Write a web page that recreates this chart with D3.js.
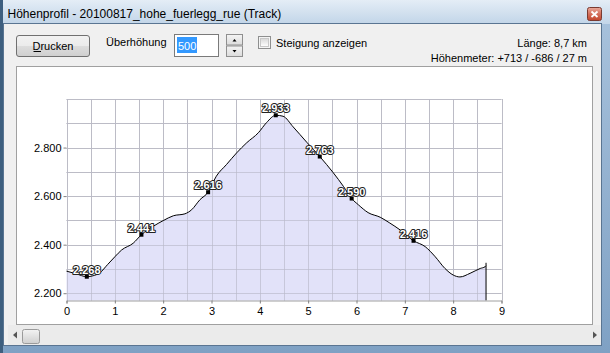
<!DOCTYPE html>
<html><head><meta charset="utf-8">
<script src="https://cdn.jsdelivr.net/npm/d3@7"></script>
<style>
html,body{margin:0;padding:0;overflow:hidden;background:#f0f0f0}
svg{display:block}
text{font-family:"Liberation Sans",Arial,sans-serif}
</style></head><body>
<svg id="c" width="610" height="353"></svg>
<script>
// ---- data ----
const titleText = "Höhenprofil - 20100817_hohe_fuerlegg_rue (Track)";
const distanceKm = [0, 0.2, 0.42, 0.55, 0.69, 0.85, 1.0, 1.14, 1.38, 1.55, 1.79, 2.0, 2.21, 2.45, 2.59, 2.76, 2.93, 3.1, 3.31, 3.52, 3.73, 3.97, 4.14, 4.33, 4.48, 4.69, 4.97, 5.24, 5.52, 5.73, 5.9, 6.04, 6.24, 6.49, 6.69, 6.9, 7.18, 7.42, 7.63, 7.83, 8.0, 8.14, 8.35, 8.56, 8.66, 8.68];
const elevationM = [2291, 2280, 2268, 2272, 2284, 2318, 2350, 2378, 2406, 2441, 2475, 2499, 2519, 2527, 2544, 2585, 2616, 2682, 2730, 2778, 2820, 2861, 2903, 2933, 2929, 2885, 2822, 2763, 2696, 2640, 2590, 2564, 2532, 2513, 2489, 2461, 2416, 2392, 2350, 2302, 2275, 2267, 2282, 2302, 2309, 2313];
const markerKm = [0.42, 1.55, 2.93, 4.33, 5.24, 5.9, 7.18];
const markerM = [2268, 2441, 2616, 2933, 2763, 2590, 2416];
const xTicks = [0, 1, 2, 3, 4, 5, 6, 7, 8, 9];
const yTicks = [2200, 2400, 2600, 2800];
const xGrid = d3.range(0, 9.01, 0.5);
const yGrid = d3.range(2200, 3001, 100);
const infoLines = ["Länge: 8,7 km", "Höhenmeter: +713 / -686 / 27 m"];
const ctrlLabels = {button: "Drucken", exag: "Überhöhung", exagValue: "500", slope: "Steigung anzeigen"};

// ---- drawing ----
const svg = d3.select("#c");
const defs = svg.append("defs");
function grad(id, stops) {
  const g = defs.append("linearGradient").attr("id", id).attr("x1", 0).attr("y1", 0).attr("x2", 0).attr("y2", 1);
  stops.forEach(s => g.append("stop").attr("offset", s[0]).attr("stop-color", s[1]));
}
grad("gTitle", [[0, "#e4edf6"], [0.5, "#d3e1ef"], [1, "#c2d5e8"]]);
grad("gBtn", [[0, "#f2f2f2"], [0.5, "#ebebeb"], [0.5, "#dddddd"], [1, "#cfcfcf"]]);
grad("gClose", [[0, "#e9a99b"], [0.5, "#d4705c"], [1, "#c2442a"]]);
grad("gSpin", [[0, "#f4f4f4"], [1, "#dcdcdc"]]);
grad("gChk", [[0, "#d8d8d8"], [1, "#ffffff"]]);
grad("gThumb", [[0, "#f3f3f3"], [1, "#cfcfcf"]]);
grad("gGlass", [[0, "#a9c3dd"], [1, "#7fa1c4"]]);

// window frame
svg.append("rect").attr("x", 0).attr("y", 0).attr("width", 610).attr("height", 353).attr("fill", "url(#gGlass)");
svg.append("rect").attr("x", 0).attr("y", 0).attr("width", 610).attr("height", 24).attr("fill", "url(#gTitle)");
svg.append("rect").attr("x", 0).attr("y", 0).attr("width", 3).attr("height", 353).attr("fill", "#3e5f7f");
svg.append("rect").attr("x", 3.5).attr("y", 23.5).attr("width", 598).attr("height", 322).attr("fill", "#f0f0f0").attr("stroke", "#5a7592").attr("stroke-width", 1);
svg.append("text").attr("x", 7.5).attr("y", 17.5).attr("font-size", 12).attr("fill", "#000").text(titleText);
// close button
svg.append("rect").attr("x", 587.5).attr("y", 7.5).attr("width", 14).attr("height", 13).attr("rx", 2).attr("fill", "url(#gClose)").attr("stroke", "#7a3a30");
svg.append("path").attr("d", "M591.5,11.5 L597.5,17 M597.5,11.5 L591.5,17").attr("stroke", "#fff").attr("stroke-width", 1.8);

// Drucken button
svg.append("rect").attr("x", 16.5).attr("y", 35.5).attr("width", 73).attr("height", 21).attr("rx", 2.5).attr("fill", "url(#gBtn)").attr("stroke", "#707070");
svg.append("text").attr("x", 53).attr("y", 50).attr("text-anchor", "middle").attr("font-size", 11).text(ctrlLabels.button);
svg.append("line").attr("x1", 33.5).attr("x2", 41).attr("y1", 51.5).attr("y2", 51.5).attr("stroke", "#000");

// Überhöhung
svg.append("text").attr("x", 106).attr("y", 46).attr("font-size", 11).text(ctrlLabels.exag);
svg.append("rect").attr("x", 174.5).attr("y", 34.5).attr("width", 44).attr("height", 22).attr("fill", "#fff").attr("stroke", "#7a7a7a");
svg.append("rect").attr("x", 177).attr("y", 37).attr("width", 20).attr("height", 16).attr("fill", "#3399ff");
svg.append("text").attr("x", 178).attr("y", 49.5).attr("font-size", 11).attr("fill", "#fff").text(ctrlLabels.exagValue);
// spinner
svg.append("rect").attr("x", 226.5).attr("y", 34.5).attr("width", 16).attr("height", 10.5).attr("fill", "url(#gSpin)").attr("stroke", "#8f8f8f");
svg.append("rect").attr("x", 226.5).attr("y", 46).attr("width", 16).attr("height", 10.5).attr("fill", "url(#gSpin)").attr("stroke", "#8f8f8f");
svg.append("path").attr("d", "M232.5,41.5 L236.5,41.5 L234.5,39 Z").attr("fill", "#000");
svg.append("path").attr("d", "M232.5,50 L236.5,50 L234.5,52.5 Z").attr("fill", "#000");
// checkbox
svg.append("rect").attr("x", 258.5).attr("y", 36.5).attr("width", 12).attr("height", 12).attr("fill", "#f4f4f4").attr("stroke", "#8e8f8f");
svg.append("rect").attr("x", 260.5).attr("y", 38.5).attr("width", 8).attr("height", 8).attr("fill", "url(#gChk)").attr("stroke", "#c8c8c8");
svg.append("text").attr("x", 276).attr("y", 47).attr("font-size", 11).text(ctrlLabels.slope);
// info
svg.selectAll("text.info").data(infoLines).join("text").attr("class", "info")
  .attr("x", 587).attr("y", (d, i) => 46.5 + i * 15.5).attr("text-anchor", "end").attr("font-size", 11).text(d => d);

// panel
svg.append("rect").attr("x", 16.5).attr("y", 66.5).attr("width", 576).attr("height", 258).attr("fill", "#fff").attr("stroke", "#a0a0a0");
// scrollbar
svg.append("rect").attr("x", 8).attr("y", 325).attr("width", 593).attr("height", 20).attr("fill", "#ebebeb");
svg.append("path").attr("d", "M13,335 L17,331.5 L17,338.5 Z").attr("fill", "#555");
svg.append("path").attr("d", "M597,335 L593,331.5 L593,338.5 Z").attr("fill", "#555");
svg.append("rect").attr("x", 22.5).attr("y", 329.5).attr("width", 17).attr("height", 14).attr("rx", 2).attr("fill", "url(#gThumb)").attr("stroke", "#9a9a9a");

// chart
const x = d3.scaleLinear().domain([0, 9]).range([66.5, 501.5]);
const y = d3.scaleLinear().domain([2170, 3000]).range([300.5, 99]);
const locale = d3.formatLocale({decimal: ",", thousands: ".", grouping: [3], currency: ["", "€"]});
const fmt = locale.format(",");

const g = svg.append("g");
g.selectAll("line.vg").data(xGrid).join("line").attr("class", "vg")
  .attr("x1", d => Math.round(x(d)) + 0.5).attr("x2", d => Math.round(x(d)) + 0.5)
  .attr("y1", y(3000)).attr("y2", y(2170)).attr("stroke", "#c4c4c4");
g.selectAll("line.hg").data(yGrid).join("line").attr("class", "hg")
  .attr("y1", d => Math.round(y(d)) + 0.5).attr("y2", d => Math.round(y(d)) + 0.5)
  .attr("x1", x(0)).attr("x2", x(9)).attr("stroke", "#c4c4c4");

const pts = distanceKm.map((d, i) => [d, elevationM[i]]);
const area = d3.area().x(d => x(d[0])).y0(y(2170)).y1(d => y(d[1])).curve(d3.curveMonotoneX);
const line = d3.line().x(d => x(d[0])).y(d => y(d[1])).curve(d3.curveMonotoneX);
g.append("path").attr("d", area(pts)).attr("fill", "#e0e0f8").attr("fill-opacity", 0.92);
// redraw grid faintly over fill
g.selectAll("line.vg2").data(xGrid).join("line").attr("class", "vg2")
  .attr("x1", d => Math.round(x(d)) + 0.5).attr("x2", d => Math.round(x(d)) + 0.5)
  .attr("y1", y(3000)).attr("y2", y(2170)).attr("stroke", "#b8b8c8").attr("stroke-opacity", 0.6);
g.selectAll("line.hg2").data(yGrid).join("line").attr("class", "hg2")
  .attr("y1", d => Math.round(y(d)) + 0.5).attr("y2", d => Math.round(y(d)) + 0.5)
  .attr("x1", x(0)).attr("x2", x(9)).attr("stroke", "#b8b8c8").attr("stroke-opacity", 0.6);
g.append("path").attr("d", line(pts)).attr("fill", "none").attr("stroke", "#000").attr("stroke-width", 1);
const last = pts[pts.length - 1];
g.append("line").attr("x1", x(last[0])).attr("x2", x(last[0])).attr("y1", y(last[1]) - 3).attr("y2", y(2170)).attr("stroke", "#000");

// axes
const xAxis = g.append("g").attr("transform", `translate(0,${y(2170)})`)
  .call(d3.axisBottom(x).tickValues(xTicks).tickSize(3).tickPadding(4).tickFormat(d3.format("d")));
const yAxis = g.append("g").attr("transform", `translate(${x(0)},0)`)
  .call(d3.axisLeft(y).tickValues(yTicks).tickSize(3).tickPadding(2).tickFormat(fmt));
[xAxis, yAxis].forEach(a => {
  a.select(".domain").attr("stroke", "#a0a0a0");
  a.selectAll(".tick line").attr("stroke", "#808080");
  a.selectAll("text").attr("font-size", 11).attr("font-family", "Liberation Sans, Arial, sans-serif").attr("fill", "#000");
});
yAxis.select(".domain").remove();

// markers
const mk = markerKm.map((d, i) => [d, markerM[i]]);
g.selectAll("rect.mk").data(mk).join("rect").attr("class", "mk")
  .attr("x", d => x(d[0]) - 2).attr("y", d => y(d[1]) - 2).attr("width", 4).attr("height", 4).attr("fill", "#000");
g.selectAll("text.ml").data(mk).join("text").attr("class", "ml")
  .attr("x", d => x(d[0])).attr("y", d => y(d[1]) - 3).attr("text-anchor", "middle")
  .attr("font-size", 11).attr("font-weight", "bold").attr("fill", "#fff")
  .attr("stroke", "#222").attr("stroke-width", 2).attr("paint-order", "stroke").attr("stroke-linejoin", "round")
  .text(d => fmt(d[1]));
</script></body></html>
